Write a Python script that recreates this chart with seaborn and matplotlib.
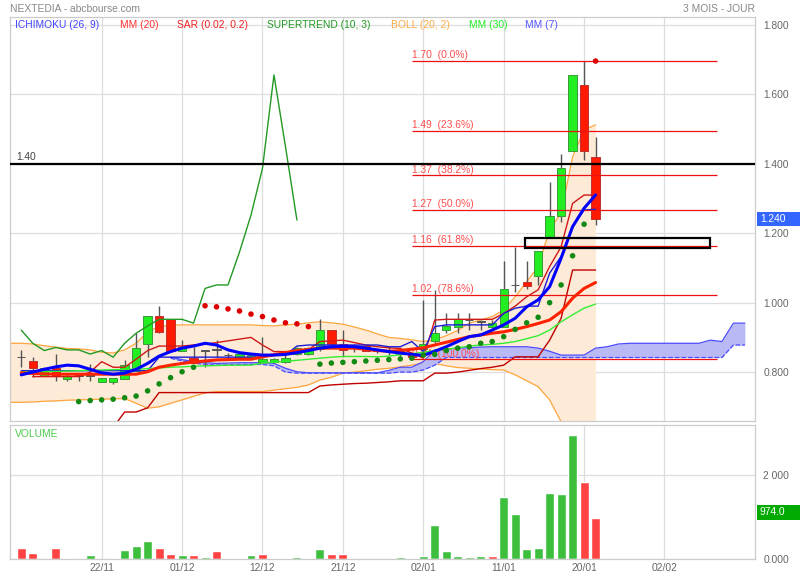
import numpy as np
import matplotlib
matplotlib.use("Agg")
import matplotlib.pyplot as plt
import matplotlib.transforms as mtransforms
from matplotlib.patches import Rectangle
import seaborn as sns

# daily candles, bar index 0..50
opens = [0.843, 0.832, 0.790, 0.811, 0.781, 0.790, 0.790, 0.772, 0.772, 0.781,
         0.804, 0.880, 0.962, 0.952, 0.862, 0.842, 0.862, 0.865, 0.849, 0.843,
         0.840, 0.830, 0.830, 0.830, 0.852, 0.852, 0.867, 0.921, 0.880, 0.875,
         0.875, 0.862, 0.862, 0.852, 0.854, 0.866, 0.890, 0.921, 0.931, 0.950,
         0.945, 0.931, 0.931, 1.051, 1.059, 1.078, 1.190, 1.250, 1.437, 1.627,
         1.421]
highs = [0.864, 0.844, 0.815, 0.852, 0.797, 0.797, 0.823, 0.783, 0.783, 0.835,
         0.912, 0.962, 0.991, 0.952, 0.892, 0.873, 0.862, 0.892, 0.855, 0.855,
         0.852, 0.900, 0.842, 0.848, 0.871, 0.871, 0.952, 0.921, 0.921, 0.882,
         0.878, 0.866, 0.873, 0.864, 0.854, 1.008, 1.037, 0.971, 0.971, 0.971,
         0.950, 0.950, 1.121, 1.161, 1.121, 1.149, 1.349, 1.429, 1.656, 1.696,
         1.478]
lows = [0.814, 0.785, 0.788, 0.775, 0.775, 0.775, 0.775, 0.772, 0.766, 0.781,
        0.804, 0.844, 0.912, 0.862, 0.862, 0.828, 0.814, 0.844, 0.840, 0.843,
        0.840, 0.830, 0.826, 0.826, 0.850, 0.850, 0.860, 0.880, 0.844, 0.858,
        0.862, 0.855, 0.850, 0.845, 0.840, 0.860, 0.883, 0.912, 0.912, 0.921,
        0.921, 0.926, 0.931, 1.032, 1.040, 1.051, 1.185, 1.231, 1.437, 1.411,
        1.224]
closes = [0.843, 0.811, 0.811, 0.790, 0.790, 0.790, 0.790, 0.783, 0.783, 0.822,
          0.871, 0.962, 0.916, 0.862, 0.873, 0.828, 0.862, 0.865, 0.849, 0.852,
          0.850, 0.839, 0.839, 0.842, 0.871, 0.871, 0.921, 0.880, 0.864, 0.875,
          0.862, 0.862, 0.862, 0.862, 0.843, 0.880, 0.912, 0.933, 0.952, 0.950,
          0.945, 0.941, 1.041, 1.051, 1.049, 1.149, 1.250, 1.387, 1.656, 1.437,
          1.240]
volumes = [262, 150, 10, 270, 40, 10, 110, 10, 40, 230,
           317, 428, 270, 127, 103, 95, 55, 206, 30, 40,
           95, 135, 40, 40, 63, 24, 238, 119, 135, 5,
           10, 10, 10, 55, 40, 71, 815, 190, 79, 63,
           71, 71, 1479, 1068, 253, 277, 1574, 1558, 2950, 1835,
           974]
vol_side = "RRGRGGGRGGGGRRGRGRGGGRGGGGGRRRRGRGRGGGGGGRGGGGGGGRR"[:51]

# bollinger (20, 2), bars -1..50
boll_start = -1
boll_up = [0.883, 0.883, 0.881, 0.876, 0.872, 0.868, 0.867, 0.864, 0.857, 0.855,
           0.864, 0.883, 0.916, 0.931, 0.935, 0.936, 0.936, 0.936, 0.936, 0.936,
           0.936, 0.936, 0.934, 0.933, 0.936, 0.938, 0.942, 0.945, 0.942, 0.938,
           0.930, 0.921, 0.910, 0.900, 0.897, 0.893, 0.888, 0.893, 0.905, 0.920,
           0.941, 0.950, 0.960, 0.979, 1.017, 1.060, 1.104, 1.210, 1.258, 1.420,
           1.498, 1.512]
boll_low = [0.713, 0.713, 0.714, 0.716, 0.717, 0.719, 0.720, 0.721, 0.722, 0.723,
            0.724, 0.710, 0.696, 0.700, 0.710, 0.720, 0.730, 0.740, 0.744, 0.744,
            0.744, 0.744, 0.744, 0.748, 0.752, 0.756, 0.763, 0.777, 0.785, 0.797,
            0.800, 0.804, 0.808, 0.811, 0.815, 0.820, 0.826, 0.825, 0.818, 0.813,
            0.811, 0.809, 0.807, 0.806, 0.792, 0.775, 0.758, 0.720, 0.657, 0.560,
            0.470, 0.420]

# moving averages, bars 0..50
mm20 = [0.798, 0.796, 0.795, 0.794, 0.794, 0.794, 0.794, 0.794, 0.794, 0.794,
        0.794, 0.801, 0.814, 0.820, 0.825, 0.829, 0.832, 0.835, 0.836, 0.837,
        0.837, 0.844, 0.850, 0.856, 0.862, 0.865, 0.869, 0.869, 0.869, 0.869,
        0.866, 0.862, 0.860, 0.862, 0.866, 0.870, 0.878, 0.886, 0.894, 0.902,
        0.907, 0.912, 0.916, 0.923, 0.931, 0.940, 0.950, 0.974, 1.013, 1.041,
        1.058]
mm30 = [0.801, 0.801, 0.802, 0.802, 0.803, 0.804, 0.805, 0.806, 0.807, 0.808,
        0.808, 0.810, 0.812, 0.814, 0.815, 0.817, 0.818, 0.819, 0.820, 0.820,
        0.820, 0.826, 0.828, 0.831, 0.834, 0.837, 0.840, 0.843, 0.845, 0.845,
        0.845, 0.844, 0.846, 0.850, 0.853, 0.857, 0.862, 0.866, 0.870, 0.875,
        0.878, 0.880, 0.883, 0.888, 0.896, 0.905, 0.921, 0.945, 0.965, 0.984,
        0.996]
mm7 = [0.792, 0.800, 0.808, 0.815, 0.820, 0.818, 0.808, 0.798, 0.794, 0.797,
       0.808, 0.825, 0.846, 0.859, 0.869, 0.875, 0.883, 0.878, 0.864, 0.856,
       0.852, 0.849, 0.849, 0.851, 0.856, 0.862, 0.869, 0.873, 0.874, 0.873,
       0.869, 0.864, 0.859, 0.855, 0.851, 0.848, 0.860, 0.873, 0.888, 0.902,
       0.907, 0.921, 0.936, 0.955, 0.988, 1.008, 1.046, 1.128, 1.219, 1.272,
       1.310]

# ichimoku (26, 9)
tenkan = [0.804, 0.804, 0.804, 0.804, 0.804, 0.804, 0.804, 0.804, 0.804, 0.804,
          0.804, 0.804, 0.843, 0.843, 0.843, 0.843, 0.843, 0.843, 0.843, 0.843,
          0.843, 0.843, 0.849, 0.849, 0.875, 0.878, 0.878, 0.878, 0.878, 0.878,
          0.878, 0.878, 0.873, 0.873, 0.888, 0.859, 0.931, 0.936, 0.936, 0.936,
          0.936, 0.936, 0.969, 0.984, 0.990, 0.990, 1.085, 1.133, 1.219, 1.267,
          1.269]
kijun_start = 1
kijun = [0.787, 0.787, 0.787, 0.787, 0.787, 0.800, 0.830, 0.814, 0.814,
         0.837, 0.862, 0.875, 0.875, 0.875, 0.878, 0.880, 0.885, 0.890, 0.895,
         0.900, 0.878, 0.859, 0.859, 0.859, 0.864, 0.888, 0.890, 0.892, 0.885,
         0.878, 0.873, 0.870, 0.868, 0.855, 0.840, 0.950, 0.952, 0.952, 0.952,
         0.952, 0.952, 0.969, 0.990, 1.017, 1.037, 1.104, 1.161, 1.286, 1.310,
         1.310]
chikou_start = 8
chikou = [0.640, 0.685, 0.685, 0.697, 0.741, 0.741, 0.741, 0.741, 0.741, 0.741,
          0.741, 0.741, 0.741, 0.741, 0.741, 0.741, 0.741, 0.741, 0.760, 0.763,
          0.765, 0.767, 0.768, 0.770, 0.772, 0.775, 0.775, 0.775, 0.797, 0.797,
          0.800, 0.805, 0.810, 0.814, 0.820, 0.844, 0.844, 0.844, 0.892, 0.955,
          1.094, 1.094, 1.094]
cloud_start = 13
senkou_a = [0.843, 0.836, 0.830, 0.827, 0.825, 0.826, 0.827, 0.827, 0.827, 0.825,
            0.811, 0.801, 0.798, 0.798, 0.798, 0.798, 0.798, 0.798, 0.798, 0.805,
            0.814, 0.814, 0.830, 0.864, 0.866, 0.869, 0.870, 0.872, 0.873, 0.873,
            0.873, 0.873, 0.869, 0.860, 0.849, 0.849, 0.849, 0.869, 0.873, 0.881,
            0.883, 0.883, 0.883, 0.883, 0.883, 0.883, 0.883, 0.892, 0.888, 0.941,
            0.941]
senkou_b = [0.840, 0.832, 0.826, 0.822, 0.820, 0.821, 0.822, 0.822, 0.822, 0.818,
            0.800, 0.797, 0.797, 0.797, 0.797, 0.797, 0.797, 0.797, 0.797, 0.797,
            0.800, 0.800, 0.806, 0.820, 0.842, 0.842, 0.842, 0.842, 0.842, 0.842,
            0.842, 0.842, 0.842, 0.842, 0.842, 0.842, 0.842, 0.842, 0.842, 0.842,
            0.842, 0.842, 0.842, 0.842, 0.842, 0.842, 0.842, 0.842, 0.842, 0.878,
            0.878]

# supertrend (10, 3), bars 0..24
supertrend = [0.921, 0.883, 0.862, 0.871, 0.864, 0.864, 0.852, 0.862, 0.843, 0.883,
              0.912, 0.933, 0.952, 0.952, 0.952, 0.941, 1.041, 1.051, 1.051, 1.146,
              1.252, 1.387, 1.656, 1.450, 1.238]

# parabolic SAR (0.02, 0.2), bars 5..50
sar_start = 5
sar = [0.715, 0.718, 0.720, 0.722, 0.726, 0.731, 0.746, 0.766, 0.784, 0.801,
       0.814, 0.991, 0.988, 0.982, 0.976, 0.967, 0.960, 0.950, 0.942, 0.939,
       0.931, 0.823, 0.826, 0.828, 0.830, 0.832, 0.834, 0.836, 0.838, 0.840,
       0.849, 0.851, 0.862, 0.869, 0.873, 0.883, 0.888, 0.902, 0.923, 0.942,
       0.958, 1.000, 1.051, 1.135, 1.226, 1.696]

# fibonacci retracement
fib_prices = [1.696, 1.494, 1.367, 1.267, 1.164, 1.022, 0.837]
fib_pcts = [0.0, 23.6, 38.2, 50.0, 61.8, 78.6, 100.0]
fib_from, fib_to = 34.0, 60.6

level_line = 1.40
zone_bars = (43.85, 60.0)
zone_prices = (1.157, 1.186)

date_bars = [7, 14, 21, 28, 35, 42, 49, 56]
date_labels = ['22/11', '01/12', '12/12', '21/12', '02/01', '11/01', '20/01', '02/02']
price_ticks = [0.8, 1.0, 1.2, 1.4, 1.6, 1.8]

# ---------------------------------------------------------------
sns.set_theme(style="white")
plt.rcParams['font.family'] = ['Liberation Sans', 'DejaVu Sans']
FS = 7.4
GREY = '#666666'

fig = plt.figure(figsize=(8, 5.8), dpi=100)
ax = fig.add_axes([0.0125, 0.27466, 0.93125, 0.69552])
axv = fig.add_axes([0.0125, 0.03569, 0.93125, 0.23155])

bars = np.arange(len(closes))
o, h, l, c = map(np.array, (opens, highs, lows, closes))


def line(x0, y, color, lw, ls='-', z=3):
    x = np.arange(x0, x0 + len(y))
    sns.lineplot(x=x, y=y, ax=ax, color=color, linewidth=lw, linestyle=ls,
                 estimator=None, sort=False, legend=False, zorder=z)


# bollinger band
bx = np.arange(boll_start, boll_start + len(boll_up))
ax.fill_between(bx, boll_low, boll_up, color='#fdebd7', lw=0, zorder=1)
line(boll_start, boll_up, '#ffa53d', 0.9, z=1.2)
line(boll_start, boll_low, '#ffa53d', 0.9, z=1.2)

# ichimoku cloud
cx = np.arange(cloud_start, cloud_start + len(senkou_a))
ax.fill_between(cx, senkou_b, senkou_a, color='#b9b9f6', lw=0, zorder=1.3)
line(cloud_start, senkou_a, '#4a4aff', 0.9, z=1.4)
line(cloud_start, senkou_b, '#4a4aff', 0.9, ls='--', z=1.4)

# candles
up = c > o
down = c < o
body_col = np.where(up, '#22ee22', np.where(down, '#ff1a00', '#555555'))
edge_col = np.where(up, '#3a9a3a', np.where(down, '#c03030', '#555555'))
ax.vlines(bars, l, h, color='#555555', lw=1, zorder=2)
ax.bar(bars, np.maximum(np.abs(c - o), 0.0015), bottom=np.minimum(o, c) - 0.0004,
       width=0.72, color=body_col, edgecolor=edge_col, linewidth=0.7, zorder=2.5)

# indicator lines
line(chikou_start, chikou, '#c00000', 1.0)
line(kijun_start, kijun, '#d01818', 1.0)
line(0, tenkan, '#1c1cd8', 1.0)
line(0, mm30, '#33ee33', 1.0)
line(0, mm20, '#ff2200', 2.2, z=3.3)
line(0, mm7, '#0000ff', 2.2, z=3.4)
line(0, supertrend, '#229922', 1.0)

# SAR dots
sx = np.arange(sar_start, sar_start + len(sar))
side = np.where(np.array(sar) > c[sx], 'down', 'up')
sns.scatterplot(x=sx, y=sar, hue=side, palette={'up': '#138a13', 'down': '#dd0000'},
                s=16, linewidth=0, legend=False, ax=ax, zorder=4)

# fibonacci lines
ax.hlines(fib_prices, fib_from, fib_to, color='#ee1111', lw=0.9, zorder=3.2)
for p, pct in zip(fib_prices, fib_pcts):
    ax.text(fib_from + 0.05, p + 0.002, f"{p:.2f}  ({pct:.1f}%)", color='#ff4d4d',
            fontsize=FS, va='bottom', ha='left', zorder=2.2)

# horizontal 1.40 level and zone box
ax.axhline(level_line, color='black', lw=1.6, zorder=3.5)
yblend = mtransforms.blended_transform_factory(ax.transAxes, ax.transData)
ax.text(6 / 745, level_line + 0.004, f"{level_line:.2f}", transform=yblend,
        color='#444444', fontsize=FS, va='bottom')
ax.add_patch(Rectangle((zone_bars[0], zone_prices[0]), zone_bars[1] - zone_bars[0],
                       zone_prices[1] - zone_prices[0], fill=False,
                       edgecolor='black', lw=1.6, zorder=3.6))

# axes styling
for a in (ax, axv):
    a.set_xlim(-0.98, 63.88)
    a.set_xticks(date_bars)
    a.grid(True, color='#dddddd', lw=0.9)
    a.set_axisbelow(True)
    a.yaxis.tick_right()
    a.tick_params(length=0, labelsize=FS, labelcolor=GREY)
    a.tick_params(axis='y', pad=6)
    a.set_xlabel('')
    a.set_ylabel('')
    for s in a.spines.values():
        s.set_color('#cccccc')
        s.set_linewidth(0.9)

ax.set_ylim(0.660, 1.822)
ax.set_yticks(price_ticks)
ax.set_yticklabels([f"{v:.3f}" for v in price_ticks])
ax.tick_params(axis='x', labelbottom=False)

# volume
vol_col = ['#3dbf3d' if s == 'G' else '#ff4242' for s in vol_side]
axv.bar(bars, volumes, width=0.78, color=vol_col, zorder=2)
axv.set_ylim(0, 3186)
axv.set_yticks([0, 2000])
axv.set_yticklabels(['0.000', '2 000'])
axv.set_xticklabels(date_labels)
axv.tick_params(axis='x', pad=3)
axv.text(5 / 745, 1 - 9 / 134.3, 'VOLUME', transform=axv.transAxes,
         color='#4cc94c', fontsize=FS, va='center')

# last value boxes on the right
fig_y_price = mtransforms.blended_transform_factory(fig.transFigure, ax.transData)
fig.add_artist(Rectangle((757 / 800, closes[-1] - 0.02), 43 / 800, 0.04,
                         transform=fig_y_price, color='#3366ff', lw=0))
fig.text(760 / 800, closes[-1], f"{closes[-1]:.3f}", transform=fig_y_price,
         color='white', fontsize=FS, va='center')
fig_y_vol = mtransforms.blended_transform_factory(fig.transFigure, axv.transData)
fig.add_artist(Rectangle((757 / 800, volumes[-1] - 40), 43 / 800, 356,
                         transform=fig_y_vol, color='#00aa00', lw=0))
fig.text(760 / 800, volumes[-1] + 138, f"{volumes[-1]:.1f}", transform=fig_y_vol,
         color='white', fontsize=FS, va='center')

# header and indicator legend
fig.text(10 / 800, 1 - 9 / 580, 'NEXTEDIA - abcbourse.com', color='#888888',
         fontsize=FS, va='center')
fig.text(755 / 800, 1 - 9 / 580, '3 MOIS - JOUR', color='#888888',
         fontsize=FS, va='center', ha='right')
legend_items = [('ICHIMOKU (26, 9)', '#4444ff', 15), ('MM (20)', '#ff3333', 120),
                ('SAR (0.02, 0.2)', '#ee2222', 177), ('SUPERTREND (10, 3)', '#229922', 267),
                ('BOLL (20, 2)', '#ffaa44', 391), ('MM (30)', '#22ee22', 469),
                ('MM (7)', '#5555ff', 525)]
for label, col, xpx in legend_items:
    fig.text(xpx / 800, 1 - 25 / 580, label, color=col, fontsize=FS, va='center')

fig.savefig('out.png', dpi=100, facecolor='white')
